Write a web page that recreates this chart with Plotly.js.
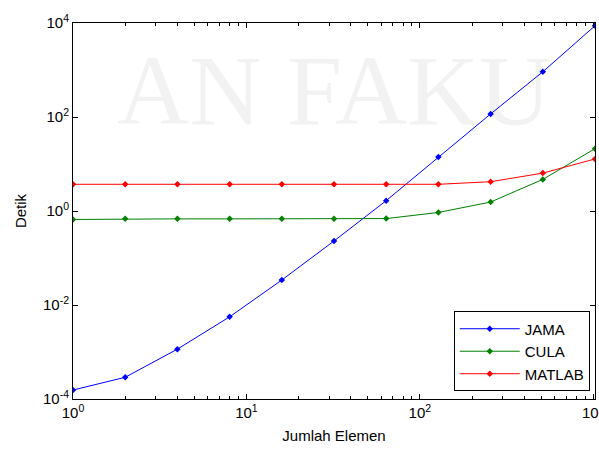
<!DOCTYPE html>
<html>
<head>
<meta charset="utf-8">
<script src="https://cdn.plot.ly/plotly-3.0.1.min.js"></script>
<style>html,body{margin:0;padding:0;background:#fff;}#chart{width:599px;height:453px;}</style>
</head>
<body>
<div id="chart"></div>
<script>
var elements = [1, 2, 4, 8, 16, 32, 64, 128, 256, 512, 1024];
var jama   = [1.55e-4, 2.9e-4, 1.15e-3, 5.6e-3, 3.4e-2, 0.23, 1.66, 14.1, 116, 915, 8750];
var cula   = [0.66, 0.68, 0.68, 0.68, 0.68, 0.68, 0.69, 0.93, 1.55, 4.7, 21.2];
var matlab = [3.7, 3.7, 3.7, 3.7, 3.7, 3.7, 3.7, 3.7, 4.2, 6.4, 12.8];
var seriesNames = ["JAMA", "CULA", "MATLAB"];
var xTicks = [1, 10, 100, 1000];
var xTickText = ['10<sup>0</sup>', '10<sup>1</sup>', '10<sup>2</sup>', '10<sup>3</sup>'];
var xMinor = [2, 3, 4, 5, 6, 7, 8, 9, 20, 30, 40, 50, 60, 70, 80, 90, 200, 300, 400, 500, 600, 700, 800, 900];
var yTicks = [1e-4, 1e-2, 1, 1e2, 1e4];
var yTickText = ['10<sup>-4</sup>', '10<sup>-2</sup>', '10<sup>0</sup>', '10<sup>2</sup>', '10<sup>4</sup>'];

function tr(y, name, color) {
  return {
    x: elements, y: y, name: name, type: 'scatter', mode: 'lines+markers',
    line: {color: color, width: 1},
    marker: {color: color, size: 5, symbol: 'diamond'}
  };
}
var data = [
  tr(jama, seriesNames[0], '#0000ff'),
  tr(cula, seriesNames[1], '#008000'),
  tr(matlab, seriesNames[2], '#ff0000')
];
var ff = 'Liberation Sans, Arial, sans-serif';
var layout = {
  width: 599, height: 453,
  margin: {l: 73, r: 4, t: 23, b: 54},
  paper_bgcolor: '#ffffff', plot_bgcolor: 'rgba(0,0,0,0)',
  font: {family: ff, size: 13, color: '#000'},
  showlegend: true,
  xaxis: {
    type: 'log', range: [0, Math.log10(1024)],
    tickmode: 'array', tickvals: xTicks, ticktext: xTickText,
    ticklabeloverflow: 'allow',
    ticks: 'inside', ticklen: 5, tickcolor: '#000',
    showline: true, linecolor: '#000', linewidth: 1, mirror: 'ticks',
    showgrid: false, zeroline: false,
    tickfont: {family: ff, size: 15, color: '#000'},
    minor: {tickmode: 'array', tickvals: xMinor, ticks: 'inside', ticklen: 3, tickcolor: '#000', showgrid: false},
    title: {text: 'Jumlah Elemen', font: {family: ff, size: 15, color: '#000'}, standoff: 10}
  },
  yaxis: {
    type: 'log', range: [-4, 4],
    tickmode: 'array', tickvals: yTicks, ticktext: yTickText,
    ticklabeloverflow: 'allow',
    ticks: 'inside', ticklen: 5, tickcolor: '#000',
    showline: true, linecolor: '#000', linewidth: 1, mirror: 'ticks',
    showgrid: false, zeroline: false,
    tickfont: {family: ff, size: 15, color: '#000'},
    title: {text: 'Detik', font: {family: ff, size: 15, color: '#000'}, standoff: 12}
  },
  legend: {
    x: 0.99, xanchor: 'right', y: 0.02, yanchor: 'bottom',
    bgcolor: '#ffffff', bordercolor: '#000', borderwidth: 1,
    font: {family: ff, size: 15, color: '#000'},
    itemwidth: 60, tracegroupgap: 0
  },
  annotations: [{
    text: 'AN FAKU', xref: 'paper', yref: 'paper', x: 0.5, y: 0.82,
    xanchor: 'center', yanchor: 'middle', showarrow: false,
    font: {family: 'Liberation Serif, serif', size: 100, color: 'rgba(0,0,0,0.05)'}
  }]
};
Plotly.newPlot('chart', data, layout, {displayModeBar: false, staticPlot: true});
</script>
</body>
</html>
